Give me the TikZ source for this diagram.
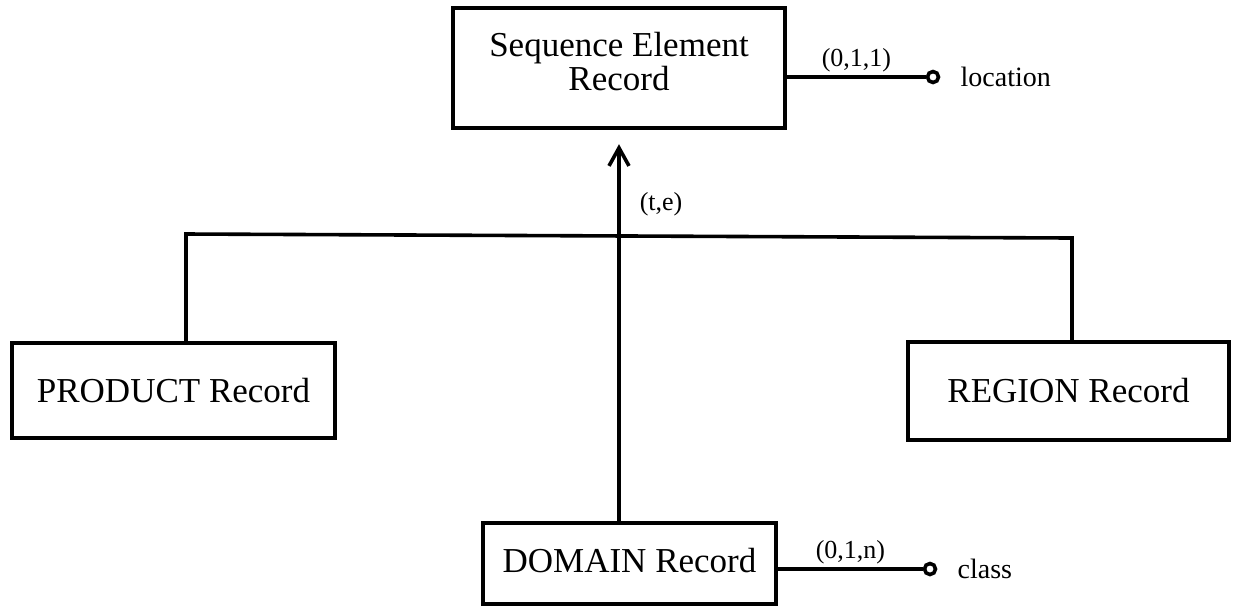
\documentclass[tikz,border=0pt]{standalone}
\usepackage{fontspec}
\setmainfont{Liberation Serif}
\usetikzlibrary{calc,arrows.meta,positioning}

\begin{document}
\begin{tikzpicture}[x=0.5pt,y=-0.5pt,
	record/.style={draw,line width=2.2pt,rectangle,inner sep=0pt,font=\fontsize{17.5}{15}\selectfont,align=center},
	card/.style={font=\fontsize{13}{15}\selectfont,inner sep=1.5pt},
	attr/.style={font=\fontsize{14}{16}\selectfont,inner sep=2pt},
	dot/.style={draw,circle,line width=1.8pt,inner sep=0pt,minimum size=5.5pt},
	link/.style={line width=1.8pt}]
	\useasboundingbox (0,0) rectangle (1233,607);
	% 记录框
	\node[record,minimum width=166pt,minimum height=60pt,text depth=7pt] (seq) at (619,68) {Sequence Element\\Record};
	\node[record,minimum width=161.5pt,minimum height=47.5pt] (prod) at (173.5,390.5) {PRODUCT Record};
	\node[record,minimum width=160.5pt,minimum height=49pt] (reg) at (1068.5,391) {REGION Record};
	\node[record,minimum width=146.5pt,minimum height=40.5pt,text depth=3pt] (dom) at (629.5,563.5) {DOMAIN Record};
	% 属性圆点及名称
	\node[dot] (loc) at (933,77) {};
	\node[dot] (cls) at (930,569) {};
	\node[attr,right=8pt of loc] (locname) {location};
	\node[attr,right=8pt of cls] (clsname) {class};
	% 属性连线
	\draw[link] (seq.east |- loc) -- (loc) node[card,midway,above] {(0,1,1)};
	\draw[link] (dom.east |- cls) -- (cls) node[card,midway,above] {(0,1,n)};
	% 横线连接两个子记录
	\coordinate (pl) at (186,234);
	\coordinate (pr) at (1072,238);
	\draw[link] (pl |- prod.north) -- (pl) -- (pr) -- (pr |- reg.north);
	% 箭头
	\draw[link,-{Straight Barb[length=9pt,width=10pt]},shorten >=7pt] (seq.south |- dom.north) -- (seq.south) node[card,pos=0.81,right=8pt] {(t,e)};
\end{tikzpicture}
\end{document}
